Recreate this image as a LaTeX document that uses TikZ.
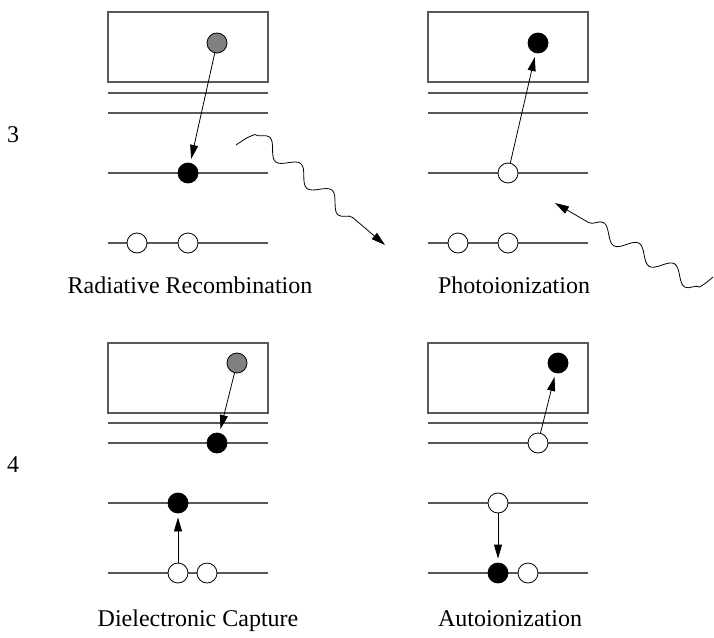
\documentclass[tikz,border=0pt]{standalone}
\usepackage{fontspec}
\setmainfont{Liberation Serif}
\usetikzlibrary{arrows.meta,decorations.pathmorphing}

\tikzset{
  energy/.style={draw=black!65, line width=1.1pt},
  dot/.style={circle, draw, line width=0.8pt, minimum size=20pt, inner sep=0pt},
  holedot/.style={dot, fill=white},
  filldot/.style={dot, fill=black},
  freedot/.style={dot, fill=black!50},
  jump/.style={-{Triangle[length=14pt,width=8pt]}, line width=0.8pt, shorten >=4pt},
  photon/.style={-{Triangle[length=14pt,width=8pt]}, line width=0.8pt},
  wiggle/.style={decoration={snake, amplitude=7.5pt, segment length=41pt, post length=#1}},
  proc/.style={font=\fontsize{24}{28}\selectfont, anchor=base}
}

\begin{document}
\begin{tikzpicture}[x=1pt, y=-1pt]
  \useasboundingbox (0,0) rectangle (714,637);

  % continuum boxes and bound levels
  \foreach \x in {108,428} {
    \draw[energy] (\x,12) rectangle ++(160,70);
    \foreach \y in {93,113,173,243}
      \draw[energy] (\x,\y) -- ++(160,0);
    \draw[energy] (\x,343) rectangle ++(160,70);
    \foreach \y in {423,443,503,573}
      \draw[energy] (\x,\y) -- ++(160,0);
  }

  % radiative recombination
  \node[freedot] (rrfree) at (217,43) {};
  \node[filldot] (rrbound) at (188,173) {};
  \node[holedot] (rrlowa) at (137,243) {};
  \node[holedot] (rrlowb) at (188,243) {};

  % photoionization
  \node[filldot] (pifree) at (538,43) {};
  \node[holedot] (pibound) at (508,173) {};
  \node[holedot] (pilowa) at (458,243) {};
  \node[holedot] (pilowb) at (508,243) {};

  % dielectronic capture
  \node[freedot] (dcfree) at (237,363) {};
  \node[filldot] (dcup) at (217,443) {};
  \node[filldot] (dcmid) at (178,503) {};
  \node[holedot] (dclowa) at (178,573) {};
  \node[holedot] (dclowb) at (207,573) {};

  % autoionization
  \node[filldot] (aifree) at (558,363) {};
  \node[holedot] (aiup) at (538,443) {};
  \node[holedot] (aimid) at (498,503) {};
  \node[filldot] (ailowa) at (498,573) {};
  \node[holedot] (ailowb) at (528,573) {};

  \draw[jump] (rrfree) -- (rrbound);
  \draw[jump] (pibound) -- (pifree);
  \draw[jump] (dcfree) -- (dcup);
  \draw[jump] (dclowa) -- (dcmid);
  \draw[jump] (aiup) -- (aifree);
  \draw[jump] (aimid) -- (ailowa);

  % photons: short lead-in, then the wave
  \coordinate (emits) at (236,145);
  \coordinate (emitw) at (255,134.5);
  \coordinate (emite) at (385,245);
  \coordinate (absorbs) at (713,277);
  \coordinate (absorbw) at (699.5,287);
  \coordinate (absorbe) at (555,203);
  \draw[photon] (emits) .. controls (248,137) .. (emitw)
    decorate[wiggle=38pt] {-- (emite)};
  \draw[photon] (absorbs) .. controls (706,283) .. (absorbw)
    decorate[wiggle=36pt] {-- (absorbe)};

  \node[proc] (rrname) at (190,293) {Radiative Recombination};
  \node[proc] (piname) at (514,293) {Photoionization};
  \node[proc] (dcname) at (198,626) {Dielectronic Capture};
  \node[proc] (ainame) at (510,626) {Autoionization};
  \node[proc] (rowthree) at (13,142) {3};
  \node[proc] (rowfour) at (13,472) {4};
\end{tikzpicture}
\end{document}
